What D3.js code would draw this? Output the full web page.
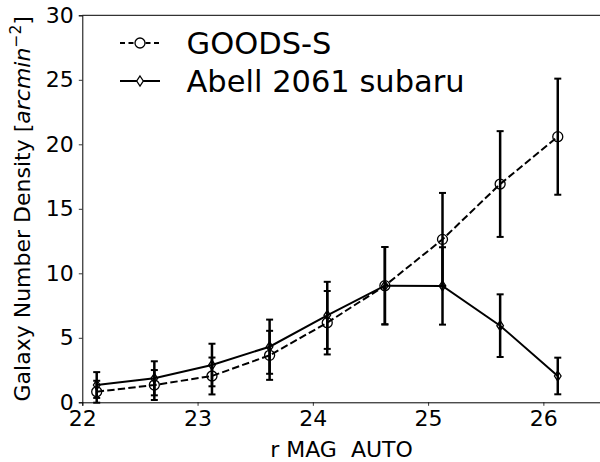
<!DOCTYPE html>
<html><head><meta charset="utf-8">
<script src="https://cdn.jsdelivr.net/npm/d3@7"></script>
<style>html,body{margin:0;padding:0;background:#fff;} svg{display:block;font-family:"DejaVu Sans",sans-serif;}</style>
</head><body>
<script>
const xMag = [22.125, 22.625, 23.125, 23.625, 24.125, 24.625, 25.125, 25.625, 26.125];
const goods = [0.82, 1.34, 2.04, 3.64, 6.17, 9.04, 12.63, 16.92, 20.59];
const goodsErr = [0.85, 1.16, 1.43, 1.9, 2.46, 3.0, 3.6, 4.1, 4.5];
const abell = [1.34, 1.86, 2.89, 4.31, 6.74, 9.04, 9.02, 5.94, 2.04];
const abellErr = [1.0, 1.32, 1.65, 2.1, 2.6, 3.0, 3.0, 2.43, 1.42];
const xTicks = [22, 23, 24, 25, 26];
const yTicks = [0, 5, 10, 15, 20, 25, 30];
const seriesNames = ["GOODS-S", "Abell 2061 subaru"];

const W = 600, H = 462;
const svg = d3.select("body").append("svg").attr("width", W).attr("height", H);
const x = d3.scaleLinear().domain([22, 26.5]).range([82.3, 601]);
const y = d3.scaleLinear().domain([0, 30]).range([402.3, 15.3]);

// axes
const xAxis = svg.append("g").attr("transform", `translate(0,${y(0)})`)
  .call(d3.axisBottom(x).tickValues(xTicks).tickFormat(d3.format("d")).tickSize(3.5).tickPadding(5));
const yAxis = svg.append("g").attr("transform", `translate(${x(22)},0)`)
  .call(d3.axisLeft(y).tickValues(yTicks).tickFormat(d3.format("d")).tickSize(3.5).tickPadding(5));
[xAxis, yAxis].forEach(g => {
  g.selectAll("text").attr("font-size", 22).attr("fill", "#000").attr("font-family", "DejaVu Sans");
  g.selectAll("line").attr("stroke", "#000").attr("stroke-width", 0.8);
  g.select(".domain").attr("stroke", "#000").attr("stroke-width", 1);
});
xAxis.selectAll("text").attr("dy", "0.71em");
// top and right spines
svg.append("line").attr("x1", x(22)).attr("x2", x(26.5)).attr("y1", y(30)).attr("y2", y(30)).attr("stroke", "#000").attr("stroke-width", 1);
svg.append("line").attr("x1", x(26.5)).attr("x2", x(26.5)).attr("y1", y(30)).attr("y2", y(0)).attr("stroke", "#000").attr("stroke-width", 1);

// labels
svg.append("text").attr("x", 341.5).attr("y", 457).attr("text-anchor", "middle").attr("font-size", 22).text("r MAG  AUTO").style("white-space", "pre");
const yl = svg.append("text").attr("transform", `translate(30,${(y(0)+y(30))/2}) rotate(-90)`).attr("text-anchor", "middle").attr("font-size", 22);
yl.append("tspan").text("Galaxy Number Density [");
yl.append("tspan").attr("font-style", "italic").text("arcmin");
yl.append("tspan").attr("font-size", 15.5).attr("dy", -9).text("−2");
yl.append("tspan").attr("dy", 9).text("]");

const plot = svg.append("g");
function errorbars(vals, errs) {
  const g = plot.append("g");
  vals.forEach((v, i) => {
    const cx = x(xMag[i]);
    g.append("line").attr("x1", cx).attr("x2", cx).attr("y1", y(v - errs[i])).attr("y2", y(v + errs[i])).attr("stroke", "#000").attr("stroke-width", 2.5);
    [v - errs[i], v + errs[i]].forEach(e => g.append("line").attr("x1", cx - 3.5).attr("x2", cx + 3.5).attr("y1", y(e)).attr("y2", y(e)).attr("stroke", "#000").attr("stroke-width", 2));
  });
}
errorbars(goods, goodsErr);
errorbars(abell, abellErr);

const line = d3.line().x((d, i) => x(xMag[i])).y(d => y(d));
plot.append("path").datum(goods).attr("d", line).attr("fill", "none").attr("stroke", "#000").attr("stroke-width", 2).attr("stroke-dasharray", "7.4,3.2");
plot.append("path").datum(abell).attr("d", line).attr("fill", "none").attr("stroke", "#000").attr("stroke-width", 2);

const diamond = (cx, cy) => `M${cx},${cy-5}L${cx+3.3},${cy}L${cx},${cy+5}L${cx-3.3},${cy}Z`;
plot.selectAll("circle.g").data(goods).enter().append("circle").attr("cx", (d, i) => x(xMag[i])).attr("cy", d => y(d)).attr("r", 5).attr("fill", "none").attr("stroke", "#000").attr("stroke-width", 1.3);
plot.selectAll("path.a").data(abell).enter().append("path").attr("d", (d, i) => diamond(x(xMag[i]), y(d))).attr("fill", "none").attr("stroke", "#000").attr("stroke-width", 1.3);

// legend
const leg = svg.append("g");
const rows = [{y: 43, dash: "7.4,3.2"}, {y: 81, dash: null}];
rows.forEach((r, i) => {
  const l = leg.append("line").attr("x1", 120).attr("x2", 160).attr("y1", r.y).attr("y2", r.y).attr("stroke", "#000").attr("stroke-width", 2);
  if (r.dash) l.attr("stroke-dasharray", "5,3.5").attr("stroke-dashoffset", 0);
  if (i === 0) leg.append("circle").attr("cx", 140).attr("cy", r.y).attr("r", 5).attr("fill", "#fff").attr("stroke", "#000").attr("stroke-width", 1.3);
  else leg.append("path").attr("d", diamond(140, r.y)).attr("fill", "#fff").attr("stroke", "#000").attr("stroke-width", 1.3);
  leg.append("text").attr("x", 186.5).attr("y", r.y).attr("dy", "0.36em").attr("font-size", 30.5).text(seriesNames[i]);
});
</script>
</body></html>
